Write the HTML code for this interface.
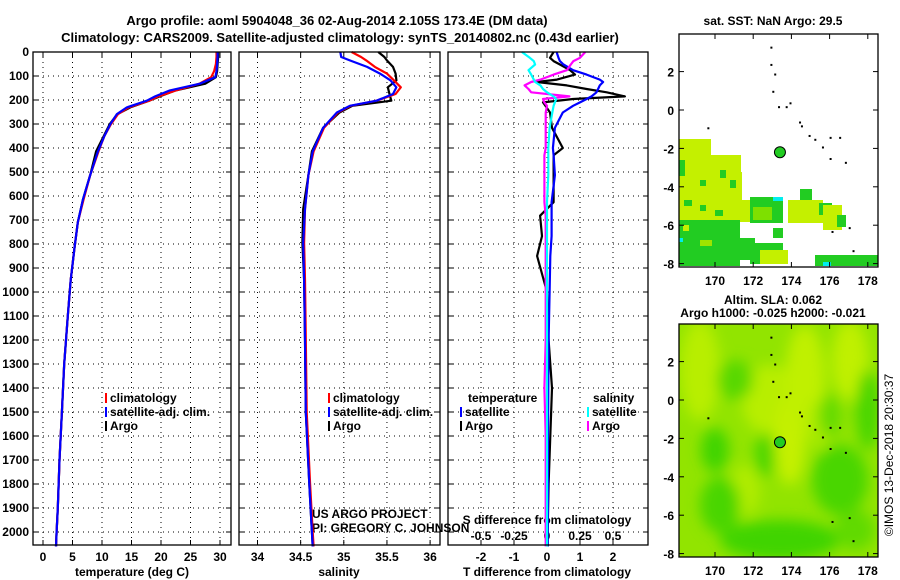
<!DOCTYPE html>
<html><head><meta charset="utf-8"><style>
body{margin:0;background:#fff;}
svg{display:block;font-family:"Liberation Sans",Arial,sans-serif;}
.b{font-weight:bold;font-size:12px;}
.t{font-weight:bold;font-size:13px;}
</style></head><body>
<svg id="c" width="900" height="580" viewBox="0 0 900 580">
<text class="t" x="337" y="25" text-anchor="middle">Argo profile: aoml 5904048_36 02-Aug-2014 2.105S 173.4E (DM data)</text>
<text class="t" x="340" y="42" text-anchor="middle">Climatology: CARS2009. Satellite-adjusted climatology: synTS_20140802.nc (0.43d earlier)</text>
<text class="b" x="773" y="25" text-anchor="middle">sat. SST: NaN Argo: 29.5</text>
<text class="b" x="773" y="304" text-anchor="middle">Altim. SLA: 0.062</text>
<text class="b" x="773" y="317" text-anchor="middle">Argo h1000: -0.025 h2000: -0.021</text>
<text x="893" y="455" font-size="12" text-anchor="middle" transform="rotate(-90 893 455)">©IMOS 13-Dec-2018 20:30:37</text>
</svg>
<script>
// ---- data ----
const depthTicks=[0,100,200,300,400,500,600,700,800,900,1000,1100,1200,1300,1400,1500,1600,1700,1800,1900,2000];
const tDepth=[0,20,50,80,105,132,160,185,203,231,259,301,350,414,513,612,710,823,950,1100,1300,1500,1700,1900,2000,2060];
const tSat=[29.6,29.6,29.5,29.4,29.2,26.6,21.5,19,17.6,14.2,12.5,11.4,10.4,9.3,8.0,6.8,5.9,5.3,4.7,4.2,3.6,3.2,2.8,2.5,2.3,2.2];
const tClim=[29.4,29.4,29.3,29.0,28.5,26.5,22.5,19.5,18,14.5,12.7,11.5,10.4,9.4,8.0,6.9,5.9,5.3,4.7,4.2,3.6,3.2,2.8,2.5,2.3,2.2];
const tArgo=[29.7,29.7,29.6,29.5,29.3,27.5,22.5,19.8,18,14.8,12.6,11.3,10.3,9.0,8.0,6.8,5.9,5.3,4.7,4.2,3.6,3.2,2.8,2.5,2.3,2.2];
const sDepth=[0,21,35,62,90,118,147,175,203,224,252,316,414,513,654,795,950,1200,1500,1800,2000,2060];
const sSat=[34.96,34.97,35.07,35.27,35.42,35.54,35.61,35.57,35.38,35.07,34.92,34.76,34.64,34.59,34.55,34.53,34.54,34.55,34.56,34.6,34.63,34.64];
const sClim=[35.09,35.2,35.26,35.36,35.5,35.58,35.66,35.6,35.38,35.08,34.93,34.77,34.65,34.59,34.55,34.54,34.55,34.56,34.57,34.61,34.64,34.65];
const sArgo=[35.4,35.47,35.5,35.57,35.6,35.61,35.51,35.53,35.55,35.1,34.95,34.76,34.63,34.59,34.53,34.52,34.54,34.55,34.56,34.6,34.63,34.64];
const dDepth=[0,24,38,52,76,94,115,125,139,154,168,185,196,210,224,252,316,400,430,513,626,682,767,850,1000,1200,1400,1600,1800,2000,2060];
const dTSat=[0.29,0.35,0.39,0.5,0.79,1.2,1.6,1.7,1.6,1.55,1.5,1.35,1.2,1.0,0.79,0.48,0.24,0.18,0.2,0.24,0.14,0.14,0.14,0.1,0.08,0.05,0.04,0.03,0.03,0.02,0.02];
const dTArgo=[0.2,0.09,0.2,0.39,0.7,0.85,0.3,-0.31,0.6,1.2,1.81,2.36,0.79,-0.12,-0.05,0.09,0.15,0.48,0.2,0.2,0.2,-0.21,-0.15,-0.3,0.0,0.05,0.15,0.1,0.05,0.02,0.02];
const dSSat=[-0.19,-0.13,-0.1,-0.09,-0.14,-0.12,-0.1,-0.09,-0.05,-0.03,0.0,0.05,0.07,0.06,0.05,0.04,0.02,0.01,0.01,0.01,0,0,0,0,0,0,0,0,0,0,0];
const dSArgo=[0.29,0.25,0.2,0.18,0.15,0.05,-0.05,-0.12,-0.17,-0.14,-0.12,0.17,-0.03,-0.02,0,-0.01,-0.01,-0.01,-0.02,-0.02,-0.02,-0.01,-0.01,-0.01,-0.01,-0.01,-0.02,-0.01,-0.01,-0.01,-0.01];
const tTicks=[0,5,10,15,20,25,30];
const sTicks=[34,34.5,35,35.5,36];
const dTTicks=[-2,-1,0,1,2];
const dSTicks=[-0.5,-0.25,0,0.25,0.5];
const lonTicks=[170,172,174,176,178];
const latTicks=[2,0,-2,-4,-6,-8];
const argoLon=173.4, argoLat=-2.2;

const svg=document.getElementById('c');
const NS='http://www.w3.org/2000/svg';
function el(tag,attrs,parent){const e=document.createElementNS(NS,tag);for(const k in attrs)e.setAttribute(k,attrs[k]);(parent||svg).appendChild(e);return e;}
const Y0=52,Y1=545;
const yD=d=>Y0+d*0.24;
const xT=v=>43+v*5.9;
const xS=v=>257.5+(v-34)*86.3;
const xDT=v=>547+v*33;
const xDS=v=>547+v*132;
const panels=[{x0:33,x1:231,name:'temperature-panel'},{x0:239,x1:440,name:'salinity-panel'},{x0:448,x1:648,name:'difference-panel'}];

function txt(x,y,s,anchor,cls,name){const t=el('text',{x:x,y:y,'text-anchor':anchor||'middle',class:cls||'b'});t.textContent=s;


return t;}

function gridV(p,xs){xs.forEach(x=>{const l=el('line',{x1:x,x2:x,y1:Y0,y2:Y1,stroke:'#000','stroke-width':1,'stroke-dasharray':'1,4'});


el('line',{x1:x,x2:x,y1:Y1,y2:Y1-5,stroke:'#000'});el('line',{x1:x,x2:x,y1:Y0,y2:Y0+5,stroke:'#000'});});}
panels.forEach((p,i)=>{
  depthTicks.forEach(d=>{const y=yD(d);
    if(d>0){const l=el('line',{x1:p.x0,x2:p.x1,y1:y,y2:y,stroke:'#000','stroke-dasharray':'1,4'});
    
    }
    el('line',{x1:p.x0,x2:p.x0+5,y1:y,y2:y,stroke:'#000'});el('line',{x1:p.x1,x2:p.x1-5,y1:y,y2:y,stroke:'#000'});
    if(i===0)txt(29,y+4,String(d),'end','b','depth-tick-label');
  });
});
gridV(panels[0],tTicks.map(xT));
gridV(panels[1],sTicks.map(xS));
gridV(panels[2],dTTicks.map(xDT));
tTicks.forEach(v=>txt(xT(v),561,String(v),'middle','b','temperature-tick-label'));
sTicks.forEach(v=>txt(xS(v),561,String(v),'middle','b','salinity-tick-label'));
dTTicks.forEach(v=>txt(xDT(v),561,String(v),'middle','b','t-diff-tick-label'));
dSTicks.forEach(v=>txt(xDS(v),540,String(v),'middle','b','s-diff-tick-label'));
txt(132,576,'temperature (deg C)','middle','b','temperature-axis-title');
txt(339,576,'salinity','middle','b','salinity-axis-title');
txt(547,576,'T difference from climatology','middle','b','t-diff-axis-title');
txt(547,524,'S difference from climatology','middle','b','s-diff-axis-title');
txt(312,518,'US ARGO PROJECT','start','','project-credit').setAttribute('font-size','12');
txt(312,532,'PI: GREGORY C. JOHNSON','start','','pi-credit').setAttribute('font-size','12');

function line(depths,vals,xf,color,name){const pts=depths.map((d,i)=>xf(vals[i]).toFixed(1)+','+yD(d).toFixed(1)).join(' ');
const l=el('polyline',{points:pts,fill:'none',stroke:color,'stroke-width':2.2,'stroke-linejoin':'round'});

}
line(tDepth,tArgo,xT,'#000','temperature-argo-line');
line(tDepth,tClim,xT,'#f00','temperature-climatology-line');
line(tDepth,tSat,xT,'#00f','temperature-satellite-line');
line(sDepth,sArgo,xS,'#000','salinity-argo-line');
line(sDepth,sClim,xS,'#f00','salinity-climatology-line');
line(sDepth,sSat,xS,'#00f','salinity-satellite-line');
line(dDepth,dTArgo,xDT,'#000','t-diff-argo-line');
line(dDepth,dTSat,xDT,'#00f','t-diff-satellite-line');
line(dDepth,dSArgo,xDS,'#f0f','s-diff-argo-line');
line(dDepth,dSSat,xDS,'#0ff','s-diff-satellite-line');

panels.forEach(p=>{const r=el('rect',{x:p.x0,y:Y0,width:p.x1-p.x0,height:Y1-Y0,fill:'none',stroke:'#000','stroke-width':1.3});

});

function legend(x,y,color,label,name){el('rect',{x:x,y:y-9,width:2,height:10,fill:color});txt(x+5,y,label,'start','b',name);}
legend(105,402,'#f00','climatology','legend-climatology');
legend(105,416,'#00f','satellite-adj. clim.','legend-satellite-adj');
legend(105,430,'#000','Argo','legend-argo');
legend(328,402,'#f00','climatology','legend-climatology-s');
legend(328,416,'#00f','satellite-adj. clim.','legend-satellite-adj-s');
legend(328,430,'#000','Argo','legend-argo-s');
txt(468,402,'temperature','start','b','legend-temperature-heading');
legend(460,416,'#00f','satellite','legend-t-satellite');
legend(460,430,'#000','Argo','legend-t-argo');
txt(593,402,'salinity','start','b','legend-salinity-heading');
legend(587,416,'#0ff','satellite','legend-s-satellite');
legend(587,430,'#f0f','Argo','legend-s-argo');

// ---- maps ----
const MX0=679,MX1=878;
const mx=lon=>715+(lon-170)*19.1;
function map(off,name,fillFn){
  const g=el('g',{});
  
  
  const my=lat=>110+off-lat*19.2;
  const cp=el('clipPath',{id:'cp'+off});el('rect',{x:MX0,y:34+off,width:MX1-MX0,height:233},cp);
  const inner=el('g',{'clip-path':'url(#cp'+off+')'},g);
  fillFn(inner,off);
  [[172.9,3.3],[172.9,2.4],[173.1,1.9],[173.0,1.0],[173.3,0.2],[173.7,0.2],[173.9,0.4],[174.4,-0.6],[174.5,-0.8],[174.9,-1.3],[175.2,-1.5],[175.6,-1.9],[176.0,-1.4],[176.5,-1.4],[176.0,-2.5],[176.8,-2.7],[169.6,-0.9],[177.0,-6.1],[176.1,-6.3],[177.2,-7.3]].forEach(c=>{
    el('rect',{x:mx(c[0]),y:my(c[1]),width:2,height:2,fill:'#000'},inner);});
  const m=el('circle',{cx:mx(argoLon),cy:my(argoLat),r:5.5,fill:'#22cc22',stroke:'#000','stroke-width':1},g);
  
  
  el('rect',{x:MX0,y:34+off,width:MX1-MX0,height:233,fill:'none',stroke:'#000','stroke-width':1.3},g);
  lonTicks.forEach(v=>{el('line',{x1:mx(v),x2:mx(v),y1:267+off,y2:262+off,stroke:'#000'},g);el('line',{x1:mx(v),x2:mx(v),y1:34+off,y2:39+off,stroke:'#000'},g);
    txt(mx(v),285+off,String(v),'middle','b','longitude-tick-label');});
  latTicks.forEach(v=>{el('line',{x1:MX0,x2:MX0+5,y1:my(v),y2:my(v),stroke:'#000'},g);el('line',{x1:MX1,x2:MX1-5,y1:my(v),y2:my(v),stroke:'#000'},g);
    txt(674,my(v)+5,String(v),'end','b','latitude-tick-label');});
}
const YG='#c4f000',G='#22cc22',MG='#7ee000';
map(0,'sst-map',(g,o)=>{
  const R=(x,y,w,h,c)=>el('rect',{x:x,y:y+o,width:w,height:h,fill:c},g);
  R(679,139,32,50,YG);R(679,155,62,45,YG);R(679,172,63,45,YG);R(679,200,74,22,YG);
  R(679,160,6,16,G);R(700,180,6,6,G);R(720,170,6,8,G);R(730,180,6,8,G);R(684,200,8,6,G);R(700,205,6,6,G);R(715,210,8,6,G);
  R(679,220,61,46,G);R(740,238,15,22,G);R(683,225,6,6,YG);R(700,240,12,6,'#9ee400');
  R(750,197,33,26,G);R(753,207,19,13,MG);R(773,197,10,4,'#00eeee');
  R(773,228,10,10,G);R(750,243,33,21,G);R(760,250,28,14,YG);
  R(788,200,35,23,YG);R(800,189,12,11,G);R(819,203,13,12,G);R(823,205,19,25,YG);R(837,215,9,12,G);
  R(815,255,63,11,G);R(823,262,8,4,'#00eeee');R(679,238,4,4,'#00eeee');
});
map(290,'sla-map',(g,o)=>{
  const f=el('filter',{id:'bl',x:'-50%',y:'-50%',width:'200%',height:'200%'});el('feGaussianBlur',{stdDeviation:7},f);
  el('rect',{x:679,y:34+o,width:199,height:233,fill:'#92e400'},g);
  const gg=el('g',{filter:'url(#bl)'},g);
  const E=(cx,cy,rx,ry,c)=>el('ellipse',{cx:cx,cy:cy+o,rx:rx,ry:ry,fill:c},gg);
  E(700,80,20,50,'#b8ee00');E(770,110,28,35,'#b8ee00');E(790,150,16,45,'#c4f000');E(805,90,20,55,'#c0f000');
  E(850,70,18,40,'#c0f000');E(735,90,18,20,'#58d800');E(745,200,15,25,'#b0ec00');E(715,160,14,22,'#40d400');
  E(765,165,10,22,'#48d600');E(840,190,28,35,'#48d600');E(868,120,12,40,'#48d600');E(820,135,12,25,'#a8ea00');
  E(720,215,20,28,'#48d600');E(780,250,60,20,'#40d400');E(830,125,10,22,'#60da00');E(855,240,20,20,'#60da00');
});
</script>
</body></html>
